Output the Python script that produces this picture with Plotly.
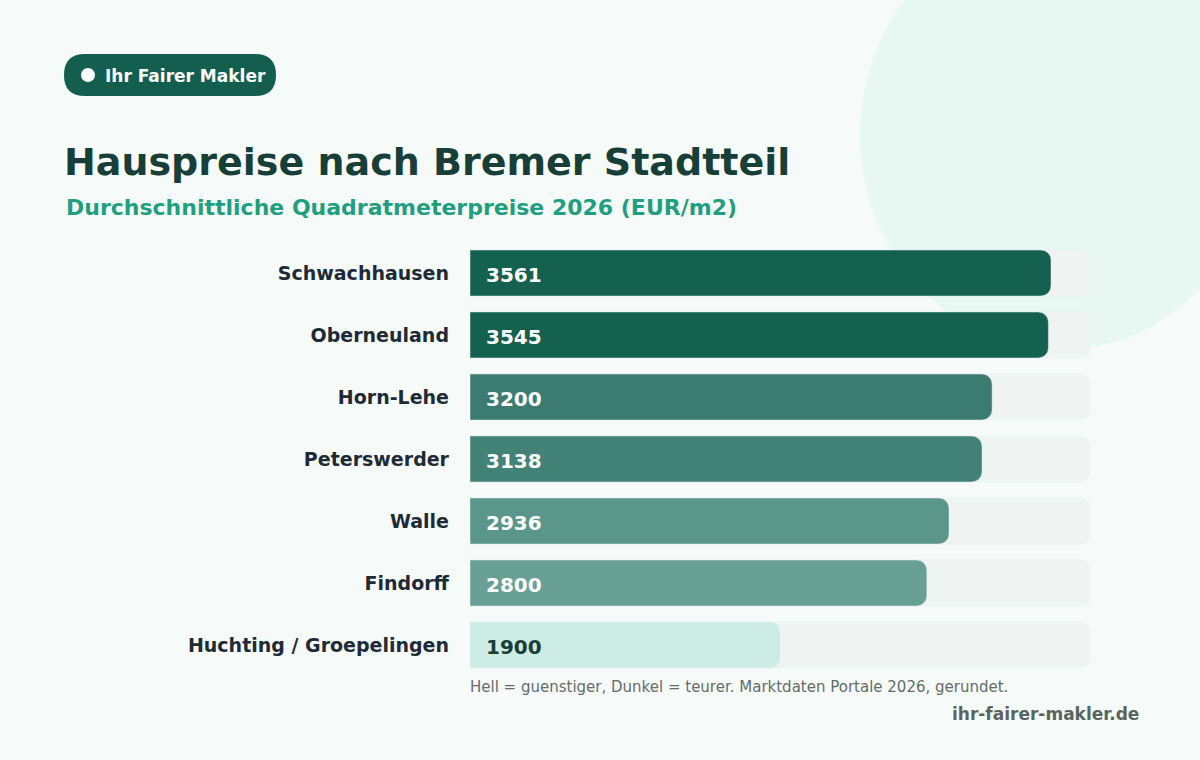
import plotly.graph_objects as go

categories = ["Schwachhausen", "Oberneuland", "Horn-Lehe", "Peterswerder", "Walle", "Findorff", "Huchting / Groepelingen"]
values = [3561, 3545, 3200, 3138, 2936, 2800, 1900]
colors = ["#146150", "#146150", "#3c7c70", "#438276", "#5a968a", "#68a095", "#cdece5"]
text_colors = ["white"] * 6 + ["#173f38"]
track_max = 3800

W, H = 1200, 760
L, R, T, B = 470, 110, 242, 84
def px(x): return (x - L) / (W - L - R)
def py(y): return (H - B - y) / (H - T - B)

fig = go.Figure()
fig.add_bar(y=categories, x=[track_max] * len(categories), orientation="h",
            marker=dict(color="#eff4f2", cornerradius=10), width=0.742, hoverinfo="skip")
fig.add_bar(y=categories, x=values, orientation="h", yaxis="y2",
            marker=dict(color=colors, cornerradius=10), width=0.742)

for c, v, tc in zip(categories, values, text_colors):
    fig.add_annotation(x=0, y=c, yref="y2", text=f"<b>{v}</b>", xanchor="left", xshift=14, yshift=-2,
                       showarrow=False, font=dict(size=20, color=tc, family="DejaVu Sans"))

shapes = [
    dict(type="circle", xref="paper", yref="paper", x0=px(860), x1=px(1260), y0=py(350), y1=py(-80),
         fillcolor="#e7f7f1", line_width=0, layer="below"),
    dict(type="path", xref="paper", yref="paper", layer="below", line_width=0, fillcolor="#135e4e",
         path=f"M {px(85)} {py(54)} L {px(255)} {py(54)} Q {px(276)} {py(54)} {px(276)} {py(75)} "
              f"Q {px(276)} {py(96)} {px(255)} {py(96)} L {px(85)} {py(96)} Q {px(64)} {py(96)} {px(64)} {py(75)} "
              f"Q {px(64)} {py(54)} {px(85)} {py(54)} Z"),
    dict(type="circle", xref="paper", yref="paper", x0=px(81), x1=px(95), y0=py(82), y1=py(68),
         fillcolor="white", line_width=0, layer="above"),
]

def ann(x, y, text, size, color, anchor="left", bold=True):
    fig.add_annotation(xref="paper", yref="paper", x=px(x), y=py(y), text=f"<b>{text}</b>" if bold else text,
                       xanchor=anchor, yanchor="middle", showarrow=False,
                       font=dict(size=size, color=color, family="DejaVu Sans"))

ann(103, 76, "Ihr Fairer Makler", 17, "white")
ann(62, 162, "Hauspreise nach Bremer Stadtteil", 38, "#173f38")
ann(64, 207, "Durchschnittliche Quadratmeterpreise 2026 (EUR/m2)", 22, "#1f9e80")
ann(468, 687, "Hell = guenstiger, Dunkel = teurer. Marktdaten Portale 2026, gerundet.", 15, "#666b6a", bold=False)
ann(1141, 714, "ihr-fairer-makler.de", 17, "#5a6360", anchor="right")

yax = dict(categoryorder="array", categoryarray=categories[::-1], range=[-0.5, 6.5], showgrid=False,
           ticks="", showline=False, zeroline=False)
fig.update_layout(
    width=W, height=H, margin=dict(l=L, r=R, t=T, b=B),
    paper_bgcolor="#f6fbf9", plot_bgcolor="rgba(0,0,0,0)",
    barmode="overlay", showlegend=False, shapes=shapes,
    xaxis=dict(range=[0, track_max], visible=False, fixedrange=True),
    yaxis=dict(**yax, ticklabelstandoff=20,
               tickfont=dict(size=19, color="#1e2a35", family="DejaVu Sans", weight="bold")),
    yaxis2=dict(**yax, overlaying="y", showticklabels=False),
)
fig.write_html("out.html", config={"displayModeBar": False})
with open("out.html", encoding="utf-8") as f:
    html = f.read()
html = html.replace("<body>", '<body style="margin:0;background:#f6fbf9">', 1)
with open("out.html", "w", encoding="utf-8") as f:
    f.write(html)
